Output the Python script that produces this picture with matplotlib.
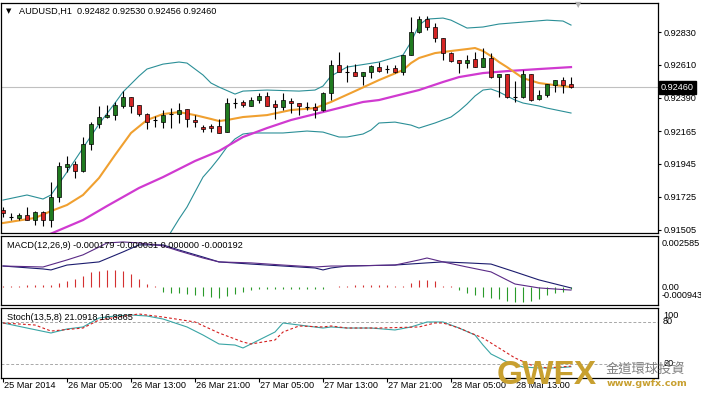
import matplotlib
matplotlib.use("Agg")
import matplotlib.pyplot as plt
from matplotlib.transforms import offset_copy, blended_transform_factory
import numpy as np

plt.rcParams['font.family'] = ['Liberation Sans', 'DejaVu Sans']
FS = 6.6

# ---------------- data ----------------
symbol_title = "AUDUSD,H1  0.92482 0.92530 0.92456 0.92460"
macd_title = "MACD(12,26,9) -0.000179 -0.000031 0.000000 -0.000192"
stoch_title = "Stoch(13,5,8) 21.0918 16.8865"

opens = [0.91636, 0.91590, 0.91583, 0.91603, 0.91569, 0.91623, 0.91569, 0.91723, 0.91925, 0.91945,
         0.91898, 0.92079, 0.92213, 0.92260, 0.92273, 0.92334, 0.92394, 0.92340, 0.92280, 0.92240,
         0.92226, 0.92280, 0.92280, 0.92314, 0.92240, 0.92193, 0.92200, 0.92200, 0.92159, 0.92354,
         0.92361, 0.92334, 0.92374, 0.92401, 0.92347, 0.92327, 0.92367, 0.92354, 0.92327, 0.92327,
         0.92307, 0.92421, 0.92609, 0.92562, 0.92562, 0.92535, 0.92562, 0.92595, 0.92582, 0.92589,
         0.92562, 0.92676, 0.92830, 0.92917, 0.92864, 0.92790, 0.92689, 0.92642, 0.92622, 0.92649,
         0.92595, 0.92656, 0.92528, 0.92548, 0.92394, 0.92394, 0.92548, 0.92381, 0.92407, 0.92474,
         0.92508, 0.92482]
highs = [0.91656, 0.91616, 0.91616, 0.91656, 0.91629, 0.91629, 0.91824, 0.91958, 0.91999, 0.91965,
         0.92126, 0.92226, 0.92334, 0.92340, 0.92361, 0.92434, 0.92394, 0.92340, 0.92287, 0.92267,
         0.92307, 0.92320, 0.92354, 0.92314, 0.92273, 0.92206, 0.92213, 0.92247, 0.92387, 0.92387,
         0.92374, 0.92394, 0.92421, 0.92428, 0.92374, 0.92421, 0.92387, 0.92354, 0.92361, 0.92354,
         0.92428, 0.92642, 0.92696, 0.92609, 0.92615, 0.92562, 0.92609, 0.92629, 0.92609, 0.92609,
         0.92676, 0.92931, 0.92937, 0.92937, 0.92890, 0.92790, 0.92696, 0.92642, 0.92676, 0.92696,
         0.92723, 0.92689, 0.92548, 0.92548, 0.92501, 0.92575, 0.92548, 0.92441, 0.92481, 0.92508,
         0.92528, 0.92530]
lows = [0.91589, 0.91569, 0.91569, 0.91566, 0.91536, 0.91529, 0.91522, 0.91690, 0.91891, 0.91851,
        0.91891, 0.92039, 0.92186, 0.92253, 0.92240, 0.92320, 0.92287, 0.92267, 0.92180, 0.92193,
        0.92186, 0.92186, 0.92220, 0.92193, 0.92193, 0.92159, 0.92159, 0.92153, 0.92159, 0.92320,
        0.92327, 0.92334, 0.92354, 0.92334, 0.92247, 0.92307, 0.92287, 0.92273, 0.92307, 0.92253,
        0.92300, 0.92374, 0.92562, 0.92495, 0.92535, 0.92474, 0.92521, 0.92562, 0.92555, 0.92555,
        0.92542, 0.92676, 0.92823, 0.92843, 0.92763, 0.92642, 0.92629, 0.92555, 0.92589, 0.92595,
        0.92595, 0.92521, 0.92394, 0.92387, 0.92361, 0.92387, 0.92367, 0.92374, 0.92394, 0.92428,
        0.92421, 0.92456]
closes = [0.91616, 0.91590, 0.91603, 0.91569, 0.91623, 0.91569, 0.91723, 0.91931, 0.91945, 0.91898,
          0.92079, 0.92213, 0.92260, 0.92273, 0.92340, 0.92394, 0.92334, 0.92280, 0.92226, 0.92240,
          0.92273, 0.92280, 0.92307, 0.92247, 0.92226, 0.92180, 0.92186, 0.92153, 0.92354, 0.92354,
          0.92340, 0.92374, 0.92401, 0.92334, 0.92327, 0.92374, 0.92354, 0.92334, 0.92327, 0.92307,
          0.92421, 0.92609, 0.92562, 0.92562, 0.92535, 0.92562, 0.92602, 0.92568, 0.92582, 0.92562,
          0.92676, 0.92830, 0.92917, 0.92864, 0.92790, 0.92689, 0.92635, 0.92622, 0.92642, 0.92595,
          0.92656, 0.92528, 0.92548, 0.92394, 0.92394, 0.92548, 0.92374, 0.92407, 0.92481, 0.92508,
          0.92474, 0.92460]

band_up_k = [0, 3, 5, 6, 8, 10, 12, 14, 15, 17, 18, 20, 22, 23, 25, 26, 27, 29, 30, 33,
             37, 39, 40, 41, 43, 47, 50, 51, 52, 53, 55, 56, 58, 60, 62, 65, 68, 70, 71]
band_up = [0.91703, 0.91737, 0.91710, 0.91737, 0.91891, 0.92052, 0.92213, 0.92354, 0.92428, 0.92535,
           0.92582, 0.92615, 0.92629, 0.92622, 0.92542, 0.92488, 0.92461, 0.92414, 0.92434, 0.92441,
           0.92434, 0.92441, 0.92468, 0.92535, 0.92595, 0.92629, 0.92676, 0.92763, 0.92877, 0.92917,
           0.92924, 0.92910, 0.92857, 0.92864, 0.92884, 0.92897, 0.92910, 0.92904, 0.92877]
band_lo_k = [20, 21, 22, 23, 24, 25, 26, 27, 28, 29, 30, 31, 35, 38, 40, 42, 43, 45, 46, 47,
             49, 51, 52, 54, 56, 57, 58, 59, 60, 61, 62, 63, 64, 65, 67, 68, 71]
band_lo = [0.91388, 0.91489, 0.91576, 0.91656, 0.91757, 0.91857, 0.91918, 0.91985, 0.92059, 0.92113,
           0.92146, 0.92153, 0.92153, 0.92166, 0.92159, 0.92126, 0.92126, 0.92146, 0.92173, 0.92220,
           0.92226, 0.92206, 0.92186, 0.92220, 0.92260, 0.92300, 0.92347, 0.92401, 0.92441, 0.92448,
           0.92428, 0.92401, 0.92374, 0.92354, 0.92334, 0.92320, 0.92287]
ma_fast_k = [0, 4, 6, 8, 10, 12, 14, 16, 18, 20, 22, 24, 26, 27, 28, 30, 33, 36, 39, 41,
             44, 47, 50, 51, 52, 54, 56, 58, 59, 60, 61, 62, 63, 65, 67, 69, 71]
ma_fast = [0.91549, 0.91583, 0.91629, 0.91670, 0.91737, 0.91851, 0.92005, 0.92153, 0.92240, 0.92280,
           0.92293, 0.92273, 0.92247, 0.92233, 0.92240, 0.92260, 0.92273, 0.92307, 0.92320, 0.92361,
           0.92434, 0.92508, 0.92575, 0.92622, 0.92656, 0.92689, 0.92703, 0.92716, 0.92723, 0.92703,
           0.92669, 0.92629, 0.92595, 0.92521, 0.92488, 0.92474, 0.92461]
ma_slow_k = [5, 10, 13, 17, 20, 24, 27, 30, 33, 36, 39, 41, 43, 45, 47, 49, 52, 55, 57, 60, 63, 67, 71]
ma_slow = [0.91455, 0.91569, 0.91663, 0.91784, 0.91857, 0.91965, 0.92032, 0.92126, 0.92186, 0.92240,
           0.92280, 0.92307, 0.92334, 0.92361, 0.92374, 0.92401, 0.92441, 0.92495, 0.92528, 0.92555,
           0.92568, 0.92582, 0.92595]
current_price = 0.92460
price_ticks = [0.92830, 0.92610, 0.92390, 0.92165, 0.91945, 0.91725, 0.91505]

macd_hist = [0.00005, 0.00005, 0.00003, 0.0001, 0.0001, 0.0001, 0.0001, 0.0002, 0.00026, 0.00041,
             0.00056, 0.00072, 0.00082, 0.00087, 0.00087, 0.00082, 0.00066, 0.00041, 0.00015, 0.00003,
             -0.00026, -0.00031, -0.00031, -0.00036, -0.00041, -0.00046, -0.00051, -0.00061, -0.00046, -0.00036,
             -0.00026, -0.0002, -0.00015, -0.00015, -0.00015, -0.00015, -0.00015, -0.00015, -0.00015, -0.00015,
             -0.00015, -0.00003, 0.00003, 0.00003, 0.0001, 0.0001, 0.0001, 0.0001, 0.00008, 0.00003,
             0.00003, 0.0002, 0.00031, 0.00036, 0.00026, 0.00005, 0.00003, -0.0002, -0.00031, -0.00041,
             -0.00051, -0.00056, -0.00066, -0.00072, -0.00077, -0.00077, -0.00072, -0.00066, -0.00041, -0.00031,
             -0.00026, -0.00015]
macd_fast_k = [0, 5, 8, 10, 12, 13, 15, 17, 20, 22, 25, 27, 31, 35, 39, 41, 43, 49, 52, 53,
               55, 58, 61, 64, 67, 71]
macd_fast = [0.00105, 0.00100, 0.00136, 0.00162, 0.00202, 0.00223, 0.00228, 0.00223, 0.00208, 0.00182,
             0.00146, 0.00126, 0.00121, 0.00110, 0.00100, 0.00105, 0.00105, 0.00110, 0.00136, 0.00146,
             0.00126, 0.00100, 0.00075, 0.00013, -0.00007, -0.00018]
macd_slow_k = [0, 5, 6, 8, 12, 15, 17, 20, 22, 25, 27, 31, 35, 39, 40, 41, 43, 49, 53, 55,
               58, 61, 64, 67, 71]
macd_slow = [0.00105, 0.00090, 0.00085, 0.00110, 0.00126, 0.00177, 0.00213, 0.00213, 0.00187, 0.00151,
             0.00126, 0.00115, 0.00105, 0.00095, 0.00085, 0.00095, 0.00105, 0.00110, 0.00121, 0.00126,
             0.00121, 0.00115, 0.00075, 0.00034, -0.00007]
macd_max, macd_min = 0.002585, -0.000943

stoch_k_x = [0, 3, 6, 8, 10, 12, 14, 16, 18, 20, 23, 25, 27, 29, 30, 32, 34, 35, 37, 40,
             41, 43, 46, 49, 51, 53, 55, 57, 59, 60, 61, 63, 65, 67, 69, 71]
stoch_k = [78.6, 71.4, 64.3, 70, 72.9, 85.7, 88.6, 90, 88.6, 84.3, 72.9, 61.4, 48.6, 47.1, 42.9, 54.3,
           65.7, 78.6, 75.7, 71.4, 72.9, 71.4, 71.4, 68.6, 72.9, 80, 80, 71.4, 61.4, 47.1, 34.3, 22.9,
           15.7, 14.3, 14.3, 16]
stoch_d_x = [0, 4, 6, 10, 12, 16, 17, 20, 24, 27, 30, 31, 34, 35, 37, 40, 41, 43, 47, 52,
             54, 55, 57, 60, 62, 64, 66, 68, 71]
stoch_d = [78.6, 75.7, 67.1, 71.4, 82.9, 90, 91.4, 87.1, 80, 64.3, 51.4, 48.6, 54.3, 65.7, 74.3, 72.9,
           74.3, 71.4, 71.4, 72.9, 78.6, 78.6, 71.4, 57.1, 42.9, 28.6, 18.6, 14.3, 16.9]
stoch_levels = [80, 20]

xtick_k = [0, 8, 16, 24, 32, 40, 48, 56, 64]
xtick_labels = ["25 Mar 2014", "26 Mar 05:00", "26 Mar 13:00", "26 Mar 21:00", "27 Mar 05:00",
                "27 Mar 13:00", "27 Mar 21:00", "28 Mar 05:00", "28 Mar 13:00"]

# ---------------- styling ----------------
GREEN = '#1f7a1f'
RED = '#d42424'
TEAL = '#2b8f97'
ORANGE = '#f0a030'
MAGENTA = '#d03ad0'
HGREEN = '#2a9a2a'
HRED = '#d43030'

W, H, DPI = 701, 396, 100
fig = plt.figure(figsize=(W / DPI, H / DPI), dpi=DPI, facecolor='white')


def panel(top, bottom, left=1, right=658):
    return fig.add_axes([left / W, 1 - bottom / H, (right - left) / W, (bottom - top) / H])


ax = panel(3, 233)
axm = panel(236, 305)
axs = panel(308, 378)
for a in (ax, axm, axs):
    a.set_xlim(-0.25, 81.875)
    a.set_facecolor('white')
    for s in a.spines.values():
        s.set_linewidth(0.9)
        s.set_color('black')
    a.tick_params(axis='x', bottom=False, labelbottom=False)
    a.tick_params(axis='y', left=False, labelleft=False)


def px(a, trans, dx, dy):
    return offset_copy(trans, fig=fig, x=dx, y=dy, units='dots')


# ---------------- main price panel ----------------
o = np.array(opens); c = np.array(closes); h = np.array(highs); l = np.array(lows)
x = np.arange(len(o))
ax.set_ylim(0.91482, 0.93025)
ax.axhline(current_price, color='#c0c0c0', lw=0.8, zorder=1)
ax.plot(band_up_k, band_up, color=TEAL, lw=0.8, zorder=2)
ax.plot(band_lo_k, band_lo, color=TEAL, lw=0.8, zorder=2)
ax.plot(ma_slow_k, ma_slow, color=MAGENTA, lw=1.6, zorder=2)
ax.plot(ma_fast_k, ma_fast, color=ORANGE, lw=1.5, zorder=2)
ax.vlines(x, l, h, color='black', lw=0.8, zorder=3)
up = c > o; dn = c < o; dj = c == o
ax.bar(x[up], (c - o)[up], bottom=o[up], width=0.62, color=GREEN, edgecolor='black', lw=0.5, zorder=4)
ax.bar(x[dn], (o - c)[dn], bottom=c[dn], width=0.62, color=RED, edgecolor='black', lw=0.5, zorder=4)
ax.hlines(o[dj], x[dj] - 0.31, x[dj] + 0.31, color='black', lw=0.8, zorder=4)

ax.yaxis.tick_right()
ax.set_yticks(price_ticks)
ax.set_yticklabels([f"{t:.5f}" for t in price_ticks])
ax.tick_params(axis='y', right=True, labelright=True, length=2.5, width=0.8, pad=1.2,
               labelsize=FS, colors='black')

ax.text(0, 1, symbol_title, transform=px(ax, ax.transAxes, 18, -8), ha='left', va='center', fontsize=FS)
ax.text(0, 1, "\u25bc", transform=px(ax, ax.transAxes, 5, -8), ha='left', va='center', fontsize=5,
        family='DejaVu Sans')
bt = blended_transform_factory(ax.transAxes, ax.transData)
ax.text(1, current_price, f"{current_price:.5f}", transform=px(ax, bt, 3, 0), ha='left', va='center',
        fontsize=FS, color='white', clip_on=False, zorder=10,
        bbox=dict(boxstyle='square,pad=0.2', fc='black', ec='black'))

# ---------------- MACD panel ----------------
axm.set_ylim(macd_min, macd_max)
hv = np.array(macd_hist)
hx = np.arange(len(hv))
axm.vlines(hx[hv >= 0], 0, hv[hv >= 0], color=HRED, lw=0.8)
axm.vlines(hx[hv < 0], 0, hv[hv < 0], color=HGREEN, lw=0.8)
axm.plot(macd_slow_k, macd_slow, color='#1c1c6e', lw=0.8)
axm.plot(macd_fast_k, macd_fast, color='#5a2a86', lw=0.8)
axm.text(0, 1, macd_title, transform=px(axm, axm.transAxes, 6, -9), ha='left', va='center', fontsize=FS)
btm = blended_transform_factory(axm.transAxes, axm.transData)
axm.text(1, macd_max, f"{macd_max:.6f}", transform=px(axm, btm, 4, -8), ha='left', va='center',
         fontsize=FS, clip_on=False)
axm.text(1, 0, "0.00", transform=px(axm, btm, 4, -1), ha='left', va='center', fontsize=FS, clip_on=False)
axm.text(1, macd_min, f"{macd_min:.6f}", transform=px(axm, btm, 4, 9), ha='left', va='center',
         fontsize=FS, clip_on=False)

# ---------------- Stochastic panel ----------------
axs.set_ylim(0, 100)
for lv in stoch_levels:
    axs.axhline(lv, color='#a8a8a8', lw=0.7, ls=(0, (3, 2)))
axs.plot(stoch_k_x, stoch_k, color='#3aa5a5', lw=0.8)
axs.plot(stoch_d_x, stoch_d, color='#d42020', lw=0.8, ls=(0, (2.5, 2)))
axs.text(0, 1, stoch_title, transform=px(axs, axs.transAxes, 6, -9), ha='left', va='center', fontsize=FS)
bts = blended_transform_factory(axs.transAxes, axs.transData)
axs.text(1, 100, "100", transform=px(axs, bts, 5, -7), ha='left', va='center', fontsize=FS, clip_on=False)
for lv in stoch_levels:
    axs.text(1, lv, str(lv), transform=px(axs, bts, 5, 1), ha='left', va='center', fontsize=FS,
             clip_on=False)

axs.set_xticks(xtick_k)
axs.tick_params(axis='x', bottom=True, length=3, width=0.8, direction='out')
for k, lab in zip(xtick_k, xtick_labels):
    axs.text(k, 0, lab, transform=px(axs, axs.get_xaxis_transform(), 1, -8), ha='left', va='center',
             fontsize=FS, clip_on=False)

# ---------------- watermark & chart-shift marker ----------------
fig.text(497 / W, 1 - 375 / H, "GWFX", ha='left', va='center', fontsize=24, fontweight='bold',
         color='#c8a030', family='Liberation Sans')
fig.text(606 / W, 1 - 370 / H, "金道環球投資", ha='left', va='center', fontsize=9.5, color='#808080',
         family=['Noto Sans CJK TC', 'DejaVu Sans'])
fig.text(607 / W, 1 - 383.5 / H, "www.gwfx.com", ha='left', va='center', fontsize=6.8, fontweight='bold',
         color='#c8a030', family='DejaVu Sans')
fig.text(578 / W, 1 - 5 / H, "\u25bc", ha='center', va='center', fontsize=6, color='#b0b0b0',
         family='DejaVu Sans')

fig.savefig("out.png", dpi=DPI, facecolor='white')
